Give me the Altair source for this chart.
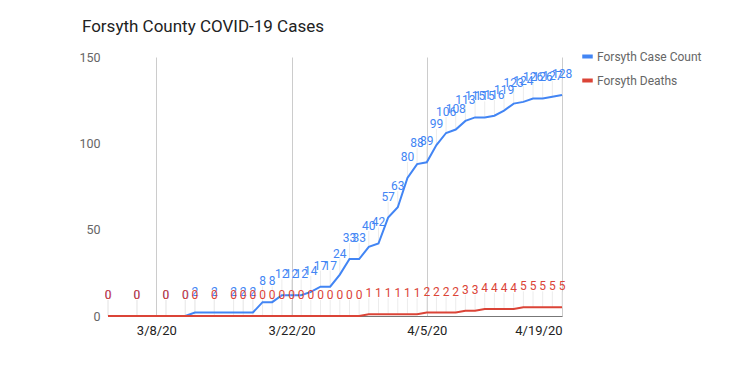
import altair as alt
import pandas as pd

dates = [
    "2020-03-03", "2020-03-06", "2020-03-09", "2020-03-11", "2020-03-12",
    "2020-03-14", "2020-03-16", "2020-03-17", "2020-03-18", "2020-03-19",
    "2020-03-20", "2020-03-21", "2020-03-22", "2020-03-23", "2020-03-24",
    "2020-03-25", "2020-03-26", "2020-03-27", "2020-03-28", "2020-03-29",
    "2020-03-30", "2020-03-31", "2020-04-01", "2020-04-02", "2020-04-03",
    "2020-04-04", "2020-04-05", "2020-04-06", "2020-04-07", "2020-04-08",
    "2020-04-09", "2020-04-10", "2020-04-11", "2020-04-12", "2020-04-13",
    "2020-04-14", "2020-04-15", "2020-04-16", "2020-04-17", "2020-04-18",
    "2020-04-19",
]
cases = [0, 0, 0, 0, 2, 2, 2, 2, 2, 8, 8, 12,
         12, 12, 14, 17, 17, 24, 33, 33, 40, 42,
         57, 63, 80, 88, 89, 99, 106, 108, 113, 115, 115, 116, 119, 123, 124, 126, 126, 127, 128]
deaths = [0, 0, 0, 0, 0, 0, 0, 0, 0, 0, 0, 0,
          0, 0, 0, 0, 0, 0, 0, 0, 1, 1,
          1, 1, 1, 1, 2, 2, 2, 2, 3, 3, 4, 4, 4, 4, 5, 5, 5, 5, 5]
series_names = ["Forsyth Case Count", "Forsyth Deaths"]
y_ticks = [0, 50, 100, 150]

BLUE = "#4285F4"
RED = "#DB4437"

df = pd.concat([
    pd.DataFrame({"date": dates, "value": cases, "series": series_names[0]}),
    pd.DataFrame({"date": dates, "value": deaths, "series": series_names[1]}),
], ignore_index=True)

grid_dates = [alt.DateTime(year=2020, month=m, date=d, utc=True)
              for m, d in [(3, 8), (3, 22), (4, 5), (4, 19)]]

x = alt.X("date:T",
          scale=alt.Scale(type="utc", nice=False,
                          domain=[alt.DateTime(year=2020, month=3, date=3, utc=True),
                                  alt.DateTime(year=2020, month=4, date=19, utc=True)]),
          axis=alt.Axis(title=None, values=grid_dates,
                        labelExpr="utcFormat(datum.value, '%-m/%-d/%y')",
                        grid=True, gridColor="#cccccc", ticks=False,
                        domain=True, domainColor="#777777",
                        labelColor="#222222", labelFontSize=13, labelPadding=8,
                        labelFont="Roboto"))
y = alt.Y("value:Q",
          scale=alt.Scale(domain=[0, 150], nice=False),
          axis=alt.Axis(title=None, values=y_ticks, grid=False, ticks=False,
                        domain=False, labelColor="#666666", labelFontSize=12.5,
                        labelPadding=8, labelFont="Roboto"))

base = alt.Chart(df)

leaders = base.mark_rule(color="#ececec", strokeWidth=1, y2Offset=-16).encode(
    x=x, y=y, y2="value:Q")

lines = base.mark_line(strokeWidth=2).encode(
    x=x, y=y,
    color=alt.Color("series:N",
                    scale=alt.Scale(domain=series_names, range=[BLUE, RED]),
                    legend=alt.Legend(title=None, orient="none", legendX=472, legendY=-8,
                                      symbolType="stroke", symbolSize=110,
                                      symbolStrokeWidth=4,
                                      labelFontSize=12, labelColor="#666666",
                                      labelFont="Roboto", rowPadding=7,
                                      labelOffset=2)))

blue_text = base.transform_filter(alt.datum.series == series_names[0]).mark_text(
    color=BLUE, fontSize=12, font="Roboto", dy=-17, baseline="alphabetic", align="center"
).encode(x=x, y=y, text="value:Q")

red_text = base.transform_filter(alt.datum.series == series_names[1]).mark_text(
    color=RED, fontSize=12, font="Roboto", dy=-17, baseline="alphabetic", align="center"
).encode(x=x, y=y, text="value:Q")

chart = alt.layer(leaders, lines, blue_text, red_text).properties(
    width=454, height=259,
    autosize=alt.AutoSizeParams(type="none"),
    padding={"left": 100, "top": 49, "right": 160, "bottom": 63},
    title=alt.TitleParams("Forsyth County COVID-19 Cases", anchor="start",
                          fontSize=17, font="Roboto", fontWeight="normal",
                          color="#222222", dx=3, offset=13),
).configure_view(stroke=None)

chart.save("out.html", embed_options={"renderer": "svg", "actions": False})
